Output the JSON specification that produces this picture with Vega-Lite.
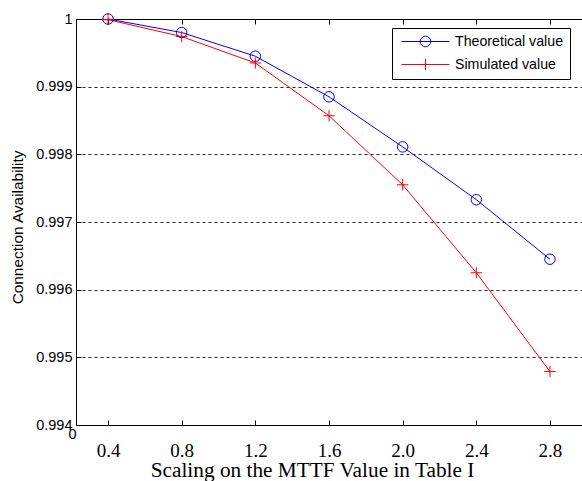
{
  "$schema": "https://vega.github.io/schema/vega-lite/v6.json",
  "width": 506,
  "height": 406,
  "autosize": "none",
  "padding": {"left": 76, "top": 19, "right": 0, "bottom": 56},
  "background": "white",
  "config": {
    "view": {"stroke": "black", "strokeWidth": 1},
    "axis": {"domain": false, "tickColor": "black", "labelColor": "black", "titleColor": "black", "tickWidth": 1}
  },
  "data": {
    "values": [
      {"x": 0.4, "series": "Theoretical value", "value": 1.0},
      {"x": 0.8, "series": "Theoretical value", "value": 0.9998},
      {"x": 1.2, "series": "Theoretical value", "value": 0.99945},
      {"x": 1.6, "series": "Theoretical value", "value": 0.99885},
      {"x": 2.0, "series": "Theoretical value", "value": 0.99811},
      {"x": 2.4, "series": "Theoretical value", "value": 0.99733},
      {"x": 2.8, "series": "Theoretical value", "value": 0.99645},
      {"x": 0.4, "series": "Simulated value", "value": 0.99999},
      {"x": 0.8, "series": "Simulated value", "value": 0.99974},
      {"x": 1.2, "series": "Simulated value", "value": 0.99935},
      {"x": 1.6, "series": "Simulated value", "value": 0.99857},
      {"x": 2.0, "series": "Simulated value", "value": 0.99755},
      {"x": 2.4, "series": "Simulated value", "value": 0.99625},
      {"x": 2.8, "series": "Simulated value", "value": 0.99479}
    ]
  },
  "encoding": {
    "y": {
      "field": "value", "type": "quantitative",
      "scale": {"domain": [0.994, 1.0], "nice": false, "zero": false},
      "axis": {
        "values": [0.994, 0.995, 0.996, 0.997, 0.998, 0.999, 1.0],
        "labelExpr": "datum.value > 0.99995 ? '1' : format(datum.value, '.3f')",
        "labelFlush": false,
        "tickSize": -5,
        "labelPadding": 9,
        "labelFont": "Liberation Sans",
        "labelFontSize": 14.5,
        "grid": true,
        "gridColor": "black",
        "gridDash": [3, 3],
        "gridWidth": 1,
        "gridOpacity": 0.85,
        "title": "Connection Availability",
        "titleFont": "Liberation Sans",
        "titleFontSize": 15.4,
        "titleFontWeight": "normal",
        "titlePadding": 10,
        "titleY": 208,
        "titleAlign": "center"
      }
    },
    "color": {
      "field": "series", "type": "nominal",
      "scale": {"domain": ["Theoretical value", "Simulated value"], "range": ["#0000ff", "#ff0000"]},
      "legend": {
        "orient": "none",
        "legendX": 316,
        "legendY": 9,
        "title": null,
        "fillColor": "white",
        "strokeColor": "black",
        "padding": 6,
        "cornerRadius": 0,
        "labelFont": "Liberation Sans",
        "labelFontSize": 14.2,
        "labelColor": "black",
        "labelExpr": "datum.label + ' '",
        "symbolSize": 196,
        "symbolStrokeWidth": 1,
        "symbolOffset": 20,
        "labelOffset": 22,
        "rowPadding": 7,
        "encode": {
          "symbols": {
            "update": {
              "shape": {"signal": "datum.value === 'Theoretical value' ? 'M-3.43,0H3.43M0.76,0C0.76,0.42 0.42,0.76 0,0.76C-0.42,0.76 -0.76,0.42 -0.76,0C-0.76,-0.42 -0.42,-0.76 0,-0.76C0.42,-0.76 0.76,-0.42 0.76,0Z' : 'M-3.43,0H3.43M0,-0.8V0.8'"},
              "fill": {"value": "transparent"}
            }
          }
        }
      }
    }
  },
  "layer": [
    {
      "mark": {"type": "line", "strokeWidth": 1},
      "encoding": {
        "x": {
          "field": "x", "type": "quantitative",
          "scale": {"domain": [0.226, 2.974], "nice": false, "zero": false},
          "axis": {
            "orient": "bottom",
            "values": [0.226, 0.4, 0.8, 1.2, 1.6, 2.0, 2.4, 2.8],
            "labelExpr": "datum.value < 0.3 ? '0' : format(datum.value, '.1f')",
            "labelFlush": false,
            "tickSize": -5,
            "labelPadding": 21,
            "labelFont": {"condition": {"test": "datum.value < 0.3", "value": "Liberation Sans"}, "value": "Liberation Serif"},
            "labelFontSize": {"condition": {"test": "datum.value < 0.3", "value": 14.5}, "value": 19},
            "labelOffset": {"condition": {"test": "datum.value < 0.3", "value": -4}, "value": 0},
            "labelBaseline": {"condition": {"test": "datum.value < 0.3", "value": "bottom"}, "value": "top"},
            "grid": false,
            "title": "Scaling on the MTTF Value in Table I",
            "titleFont": "Liberation Serif",
            "titleFontSize": 21.3,
            "titleFontWeight": "normal",
            "titleX": 236,
            "titleY": 51,
            "titleAlign": "center",
            "titleBaseline": "alphabetic"
          }
        }
      }
    },
    {
      "transform": [{"filter": "datum.series === 'Theoretical value'"}],
      "mark": {"type": "point", "filled": false, "strokeWidth": 1, "size": 110, "opacity": 1, "shape": "circle"},
      "encoding": {
        "x": {
          "field": "x", "type": "quantitative",
          "axis": {
            "orient": "top",
            "values": [0.4, 0.8, 1.2, 1.6, 2.0, 2.4, 2.8],
            "labels": false,
            "tickSize": -5,
            "grid": false,
            "title": null
          }
        }
      }
    },
    {
      "transform": [{"filter": "datum.series === 'Simulated value'"}],
      "mark": {"type": "point", "filled": false, "strokeWidth": 1, "size": 130, "opacity": 1, "shape": "M-1,0H1M0,-1V1"},
      "encoding": {
        "x": {"field": "x", "type": "quantitative", "axis": null}
      }
    }
  ]
}
